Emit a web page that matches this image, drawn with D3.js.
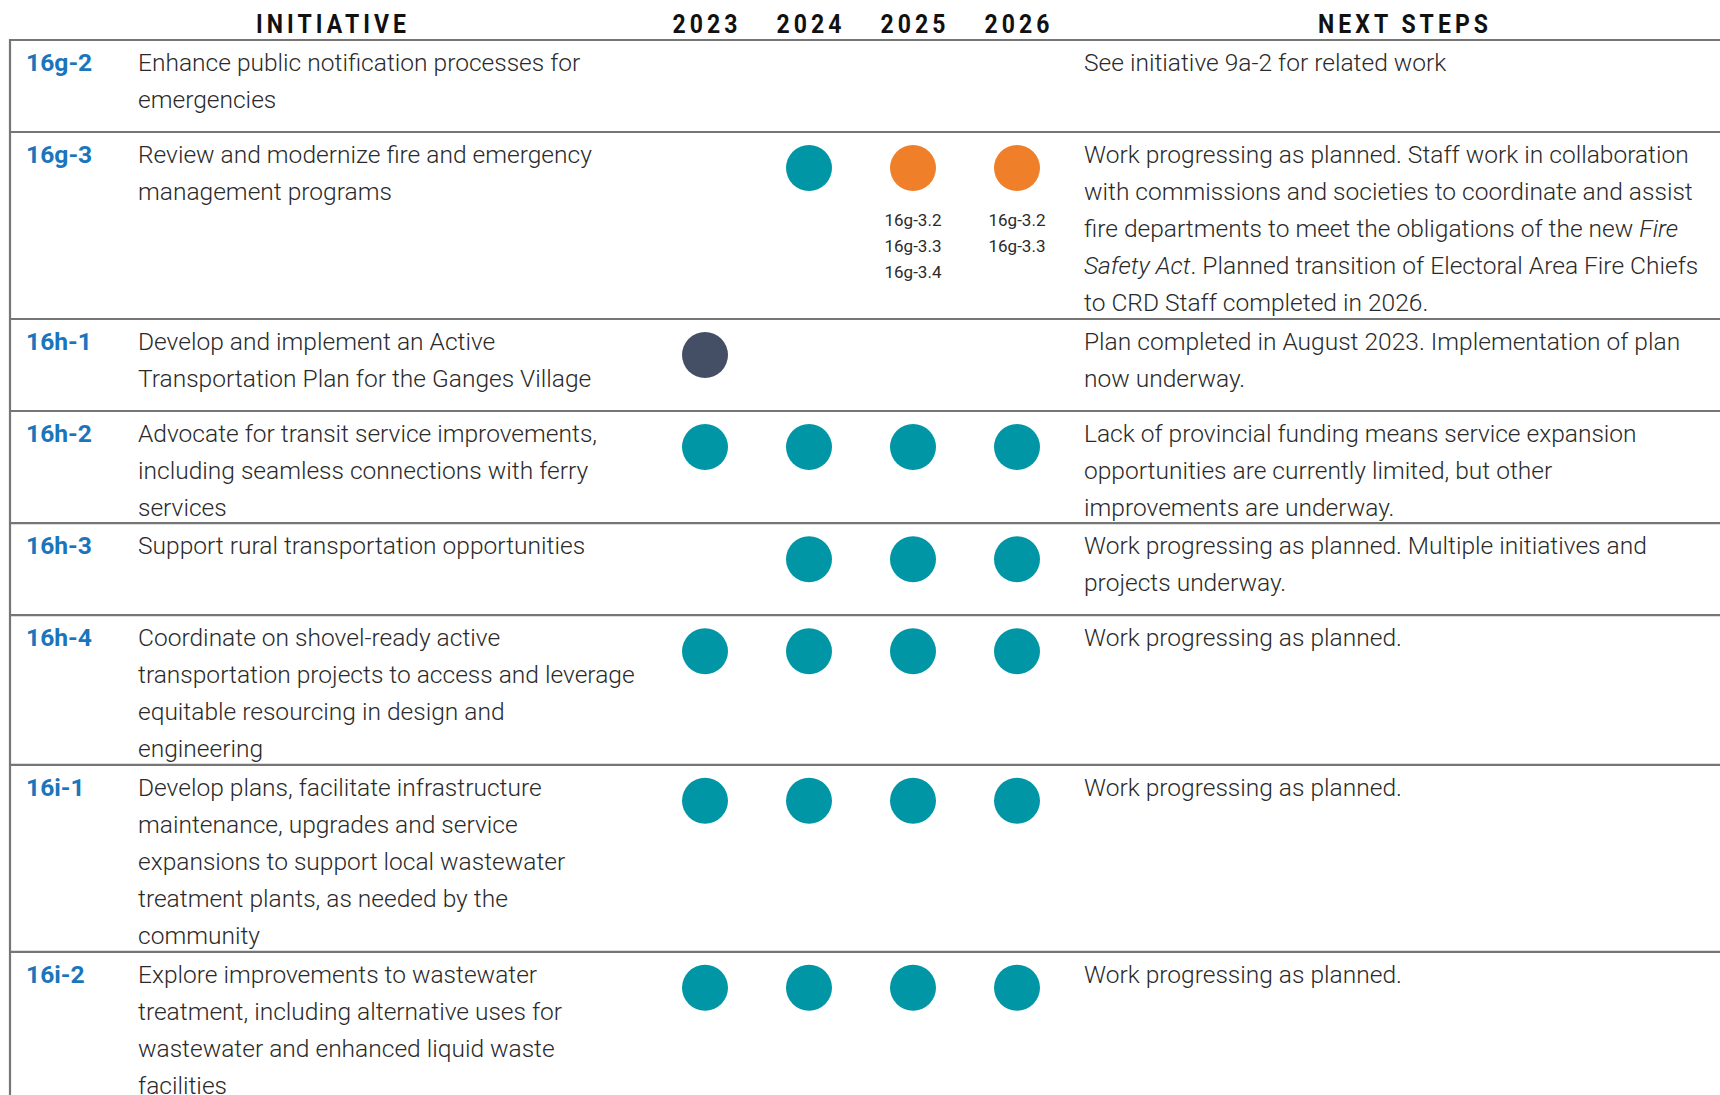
<!DOCTYPE html>
<html><head><meta charset="utf-8">
<script src="https://cdn.jsdelivr.net/npm/d3@7"></script>
<style>html,body{margin:0;padding:0;background:#fff;} svg{display:block;}</style>
</head><body>
<svg id="chart" width="1720" height="1095"></svg>
<script>
// ---------- DATA ----------
const years = ["2023", "2024", "2025", "2026"];
const headers = { initiative: "INITIATIVE", next: "NEXT STEPS" };
const ids = ["16g-2", "16g-3", "16h-1", "16h-2", "16h-3", "16h-4", "16i-1", "16i-2"];
const initiatives = [
  ["Enhance public notification processes for", "emergencies"],
  ["Review and modernize fire and emergency", "management programs"],
  ["Develop and implement an Active", "Transportation Plan for the Ganges Village"],
  ["Advocate for transit service improvements,", "including seamless connections with ferry", "services"],
  ["Support rural transportation opportunities"],
  ["Coordinate on shovel-ready active", "transportation projects to access and leverage", "equitable resourcing in design and", "engineering"],
  ["Develop plans, facilitate infrastructure", "maintenance, upgrades and service", "expansions to support local wastewater", "treatment plants, as needed by the", "community"],
  ["Explore improvements to wastewater", "treatment, including alternative uses for", "wastewater and enhanced liquid waste", "facilities"]
];
// segments wrapped in _underscores_ are italic
const nextSteps = [
  ["See initiative 9a-2 for related work"],
  ["Work progressing as planned. Staff work in collaboration", "with commissions and societies to coordinate and assist", "fire departments to meet the obligations of the new _Fire_", "_Safety Act_. Planned transition of Electoral Area Fire Chiefs", "to CRD Staff completed in 2026."],
  ["Plan completed in August 2023. Implementation of plan", "now underway."],
  ["Lack of provincial funding means service expansion", "opportunities are currently limited, but other", "improvements are underway."],
  ["Work progressing as planned. Multiple initiatives and", "projects underway."],
  ["Work progressing as planned."],
  ["Work progressing as planned."],
  ["Work progressing as planned."]
];
// p = in progress, a = adjusted, c = complete, null = none
const status = [
  [null, null, null, null],
  [null, "p", "a", "a"],
  ["c", null, null, null],
  ["p", "p", "p", "p"],
  [null, "p", "p", "p"],
  ["p", "p", "p", "p"],
  ["p", "p", "p", "p"],
  ["p", "p", "p", "p"]
];
const subLabels = [
  [[], [], [], []],
  [[], [], ["16g-3.2", "16g-3.3", "16g-3.4"], ["16g-3.2", "16g-3.3"]],
  [[], [], [], []], [[], [], [], []], [[], [], [], []],
  [[], [], [], []], [[], [], [], []], [[], [], [], []]
];
const statusColors = { p: "#0096a5", a: "#ef7f28", c: "#444f66" };

// ---------- LAYOUT ----------
const W = 1720, H = 1095;
const svg = d3.select("#chart");
const bodyFont = "Roboto, 'Open Sans', sans-serif";
const textColor = "#2a2a2a";
const lineColor = "#767676";
const idColor = "#1a75bc";
const xLeft = 10, tableTop = 40;
const xId = 26, xInit = 138, xNext = 1084;
const lineH = 37, firstBase = 31;

function measure(text, weight, size, ls) {
  const t = svg.append("text").attr("font-family", bodyFont).attr("font-weight", weight)
    .attr("font-size", size).attr("letter-spacing", ls || 0).text(text);
  const w = t.node().getComputedTextLength(); t.remove(); return w;
}
const bodySize = 24;
const sxBody = 605 / measure("Work progressing as planned. Staff work in collaboration", 300, bodySize);
const idSize = 24;
const sxId = 66 / measure("16h-4", 700, idSize);
const headSize = 25;
const sxHead = sxBody * 0.9;
const headW0 = measure(headers.initiative, 700, headSize, 0);
const headLS = (150 / sxHead - headW0) / 9;

const x = d3.scaleBand().domain(years).range([653, 1069]);
const cx = d => x(d) + x.bandwidth() / 2;

// row heights derived from line counts
const rowLines = ids.map((d, i) => Math.max(initiatives[i].length, nextSteps[i].length));
const rowH = rowLines.map(n => Math.max(92, n * 37.4));
const rowTop = [];
rowLines.reduce((acc, n, i) => { rowTop.push(acc); return acc + rowH[i]; }, tableTop);

// ---------- HEADER ----------
const hdr = svg.append("g").attr("font-family", bodyFont).attr("font-weight", 700)
  .attr("font-size", headSize).attr("fill", "#111").attr("letter-spacing", headLS)
  .attr("text-anchor", "middle");
const hdrItems = [{ t: headers.initiative, x: 331 }, { t: headers.next, x: 1403 }]
  .concat(years.map(y => ({ t: y, x: cx(y) })));
hdr.selectAll("text").data(hdrItems).join("text")
  .attr("transform", d => `translate(${d.x + headLS * sxHead / 2},33) scale(${sxHead},1)`)
  .text(d => d.t);

// ---------- GRID ----------
const grid = svg.append("g").attr("stroke", lineColor).attr("stroke-width", 2.2);
grid.append("line").attr("x1", xLeft).attr("x2", W).attr("y1", tableTop).attr("y2", tableTop);
grid.selectAll("line.row").data(ids).join("line").attr("class", "row")
  .attr("x1", xLeft).attr("x2", W)
  .attr("y1", (d, i) => rowTop[i] + rowH[i]).attr("y2", (d, i) => rowTop[i] + rowH[i]);
grid.append("line").attr("x1", xLeft).attr("x2", xLeft).attr("y1", tableTop - 1).attr("y2", H);

// ---------- ROWS ----------
const rows = svg.selectAll("g.rowg").data(ids).join("g").attr("class", "rowg")
  .attr("transform", (d, i) => `translate(0,${rowTop[i]})`);

rows.append("text")
  .attr("transform", `translate(${xId},${firstBase}) scale(${sxId},1)`)
  .attr("font-family", bodyFont).attr("font-weight", 700).attr("font-size", idSize)
  .attr("fill", idColor).text(d => d);

function addLines(g, lines, x0) {
  lines.forEach((ln, k) => {
    const t = g.append("text")
      .attr("transform", `translate(${x0},${firstBase + k * lineH}) scale(${sxBody},1)`)
      .attr("font-family", bodyFont).attr("font-weight", 300).attr("font-size", bodySize)
      .attr("fill", textColor);
    ln.split(/(_[^_]+_)/).filter(s => s.length).forEach(seg => {
      const it = seg.startsWith("_") && seg.endsWith("_");
      t.append("tspan").attr("font-style", it ? "italic" : null)
        .text(it ? seg.slice(1, -1) : seg);
    });
  });
}
rows.each(function (d, i) {
  const g = d3.select(this);
  addLines(g, initiatives[i], xInit);
  addLines(g, nextSteps[i], xNext);
  const marks = years.map((y, j) => ({ y, s: status[i][j], labels: subLabels[i][j] }));
  g.selectAll("circle").data(marks.filter(m => m.s)).join("circle")
    .attr("cx", m => cx(m.y)).attr("cy", 36).attr("r", 23)
    .attr("fill", m => statusColors[m.s]);
  marks.forEach(m => {
    m.labels.forEach((lab, k) => {
      g.append("text").attr("x", cx(m.y)).attr("y", 94 + k * 26)
        .attr("text-anchor", "middle").attr("font-family", bodyFont)
        .attr("font-size", 17).attr("fill", textColor).text(lab);
    });
  });
});
</script>
</body></html>
